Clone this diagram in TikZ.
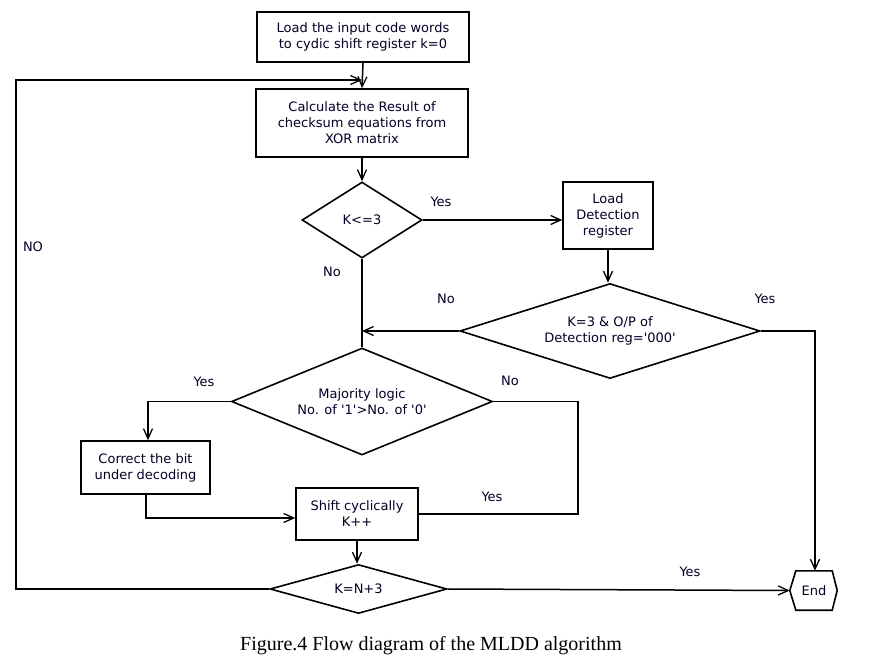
\documentclass[tikz,border=0pt]{standalone}
\usepackage{fontspec}
\setmainfont{DejaVu Sans}
\newfontfamily\capfont{Liberation Serif}
\usetikzlibrary{arrows.meta,shapes.geometric}
\newcommand\sq{\textquotesingle}
\begin{document}
\begin{tikzpicture}[x=1pt,y=-1pt,
  every node/.style={font=\fontsize{13}{16}\selectfont, text=black!85!blue},
  boxst/.style={draw=black, line width=1.6pt, rectangle, inner sep=0pt, align=center},
  dia/.style={draw=black, line width=1.6pt, diamond, inner sep=0pt, align=center},
  conn/.style={line width=1.5pt, draw=black},
  arr/.style={conn, -{Straight Barb[length=10pt,width=9pt,line width=1.3pt]}},
  lbl/.style={inner sep=0pt}]
\useasboundingbox (0,0) rectangle (887,656);
% nodes
\node[boxst, minimum width=212, minimum height=50] (b1) at (363,37) {Load the input code words\\to cydic shift register k=0};
\node[boxst, minimum width=212, minimum height=68] (b2) at (362,123) {Calculate the Result of\\checksum equations from\\XOR matrix};
\node[dia, minimum width=120, minimum height=76, aspect=1.58] (d1) at (362,220) {K<=3};
\node[boxst, minimum width=90, minimum height=67] (b3) at (608,215.5) {Load\\Detection\\register};
\node[dia, minimum width=300, minimum height=95, aspect=3.16] (d2) at (610,331) {K=3 \& O/P of\\Detection reg=\sq000\sq};
\node[dia, minimum width=261, minimum height=107, aspect=2.44] (d3) at (362,401.5) {Majority logic\\No. of \sq1\sq>No. of \sq0\sq};
\node[boxst, minimum width=129, minimum height=53] (b4) at (145.5,467.5) {Correct the bit\\under decoding};
\node[boxst, minimum width=122, minimum height=52] (b5) at (357,514) {Shift cyclically\\K++};
\node[dia, minimum width=177, minimum height=49, aspect=3.6] (d4) at (358.5,589) {K=N+3};
\node[inner sep=0pt, minimum width=36, minimum height=39] (end) at (814,590.5) {End};
\draw[line width=1.6pt] ([xshift=-6pt]end.west) -- (end.north west) -- (end.north east) -- ([xshift=5pt]end.east) -- (end.south east) -- (end.south west) -- cycle;
% coordinates
\coordinate (merge) at (362,80);
\coordinate (loopTL) at (16,80);
\coordinate (loopBL) at (16,589);
\coordinate (endL) at ([xshift=-6pt]end.west);
\coordinate (yesR) at (815,331);
\coordinate (noR) at (578,401.5);
\coordinate (corrY) at (146,518);
\coordinate (yesL) at (148,401.5);
% connectors
\draw[arr] (b1.south) -- (b2.north);
\draw[arr] (d4.west) -- (loopBL) -- (loopTL) -- (merge);
\draw[arr] (b2.south) -- (d1.north);
\draw[arr] (d1.east) -- (d1.east -| b3.west);
\draw[arr] (b3.south) -- (b3.south |- d2.north);
\draw[conn] (d1.south) -- (d3.north);
\draw[arr] (d2.west) -- (d2.west -| d1.south);
\draw[arr] (d2.east) -- (yesR) -- (yesR |- end.north);
\draw[arr] (d3.west) -- (yesL) -- (yesL |- b4.north);
\draw[arr] (b4.south -| corrY) -- (corrY) -- (corrY -| b5.west);
\draw[conn] (d3.east) -- (noR) -- (noR |- b5.east) -- (b5.east);
\draw[arr] (b5.south) -- (b5.south |- d4.north);
\draw[arr] (d4.east) -- (endL);
% labels
\node[lbl] (l1) at (441,202) {Yes};
\node[lbl] (l2) at (332,272) {No};
\node[lbl] (l3) at (446,299) {No};
\node[lbl] (l4) at (765,299) {Yes};
\node[lbl] (l5) at (204,382) {Yes};
\node[lbl] (l6) at (510,381) {No};
\node[lbl] (l7) at (492,497) {Yes};
\node[lbl] (l8) at (690,572) {Yes};
\node[lbl] (l9) at (33,247) {NO};
\node[inner sep=0pt, text=black, font=\capfont\fontsize{20}{22}\selectfont] (cap) at (431,646) {Figure.4 Flow diagram of the MLDD algorithm};
\end{tikzpicture}
\end{document}
